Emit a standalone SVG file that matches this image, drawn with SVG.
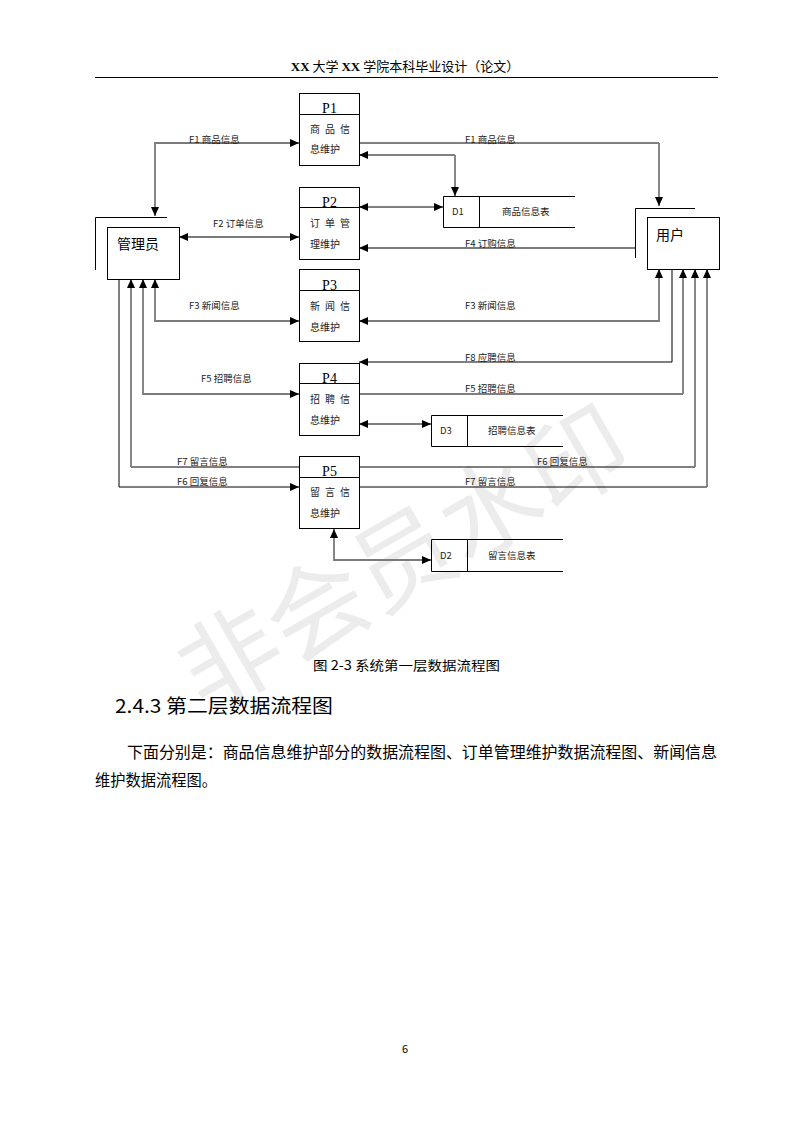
<svg xmlns="http://www.w3.org/2000/svg" width="793" height="1122" viewBox="0 0 793 1122">
<style>
.bg{fill:#ffffff}
.box{fill:#ffffff;stroke:#000;stroke-width:1}
.ln{fill:none;stroke:#000;stroke-width:1}
.k{fill:none;stroke:#000;stroke-width:1}
.g{fill:none;stroke:#7a7a7a;stroke-width:1.8}
.lbl{font-family:"Noto Sans CJK SC","Liberation Serif",serif;font-size:9.5px;fill:#222}
.pid{font-family:"Liberation Serif",serif;font-size:14px;fill:#000;text-anchor:middle}
.pt{font-family:"Noto Sans CJK SC",sans-serif;font-size:10px;fill:#222}
.ent{font-family:"Noto Sans CJK SC",sans-serif;font-size:14px;fill:#000}
.doc{font-family:"Noto Sans CJK SC",sans-serif;fill:#000}
.wm{font-family:"Noto Sans CJK SC",sans-serif;font-size:100px;font-weight:400;fill:#ececec}
</style>
<defs>
<marker id="ah" markerWidth="10" markerHeight="8" refX="9" refY="4" orient="auto-start-reverse" markerUnits="userSpaceOnUse">
<path d="M0,0 L9,4 L0,8 Z" fill="#000"/>
</marker>
</defs>
<rect class="bg" x="0" y="0" width="793" height="1122"/>
<text class="wm" x="205" y="715" transform="rotate(-30 205 715)">非会员水印</text>

<g id="header">
<text class="doc" x="405" y="71" font-size="13" text-anchor="middle"><tspan font-family="Liberation Serif" font-weight="bold">XX</tspan> 大学 <tspan font-family="Liberation Serif" font-weight="bold">XX</tspan> 学院本科毕业设计（论文）</text>
<line class="ln" x1="95" y1="77.5" x2="718" y2="77.5"/>
</g>

<g id="connectors">
<path class="g" d="M155,216 V143 H299" marker-start="url(#ah)" marker-end="url(#ah)"/>
<path class="k" d="M359,143 H659"/>
<path class="g" d="M659,143 V206" marker-end="url(#ah)"/>
<path class="k" d="M359,155 H455" marker-start="url(#ah)"/>
<path class="g" d="M455,155 V196" marker-end="url(#ah)"/>
<path class="k" d="M359,207 H443" marker-start="url(#ah)" marker-end="url(#ah)"/>
<path class="g" d="M179,237 H299" marker-start="url(#ah)" marker-end="url(#ah)"/>
<path class="g" d="M635,248 H359" marker-end="url(#ah)"/>
<path class="g" d="M155,279 V321 H299" marker-start="url(#ah)" marker-end="url(#ah)"/>
<path class="g" d="M659,269 V321 H359" marker-start="url(#ah)" marker-end="url(#ah)"/>
<path class="k" d="M672,269 V362 H359" marker-end="url(#ah)"/>
<path class="k" d="M359,394 H683"/>
<path class="g" d="M683,394 V269" marker-end="url(#ah)"/>
<path class="g" d="M143,279 V394 H299" marker-start="url(#ah)" marker-end="url(#ah)"/>
<path class="k" d="M359,424 H431" marker-start="url(#ah)" marker-end="url(#ah)"/>
<path class="k" d="M299,467 H131"/>
<path class="g" d="M131,467 V279" marker-end="url(#ah)"/>
<path class="k" d="M119,279 V487 H299" marker-end="url(#ah)"/>
<path class="k" d="M359,467 H695"/>
<path class="g" d="M695,467 V269" marker-end="url(#ah)"/>
<path class="k" d="M359,487 H707"/>
<path class="g" d="M707,487 V269" marker-end="url(#ah)"/>
<path class="g" d="M334,529 V560 H431" marker-start="url(#ah)" marker-end="url(#ah)"/>
<text class="lbl" x="189" y="143">F1 商品信息</text>
<text class="lbl" x="465" y="143">F1 商品信息</text>
<text class="lbl" x="213" y="227">F2 订单信息</text>
<text class="lbl" x="465" y="247">F4 订购信息</text>
<text class="lbl" x="189" y="309">F3 新闻信息</text>
<text class="lbl" x="465" y="309">F3 新闻信息</text>
<text class="lbl" x="465" y="361">F8 应聘信息</text>
<text class="lbl" x="201" y="382">F5 招聘信息</text>
<text class="lbl" x="465" y="392">F5 招聘信息</text>
<text class="lbl" x="177" y="465">F7 留言信息</text>
<text class="lbl" x="537" y="465">F6 回复信息</text>
<text class="lbl" x="177" y="485">F6 回复信息</text>
<text class="lbl" x="465" y="485">F7 留言信息</text>
</g>

<g id="admin">
<path class="ln" d="M95.5,270 V217.5 H167"/>
<rect class="box" x="107.5" y="227.5" width="72" height="52"/>
<text class="ent" x="117" y="249">管理员</text>
</g>

<g id="user">
<path class="ln" d="M635.5,258 V208.5 H695"/>
<rect class="box" x="647.5" y="217.5" width="72" height="52"/>
<text class="ent" x="656" y="240">用户</text>
</g>

<g id="P1">
<rect class="box" x="299.5" y="93.5" width="60" height="72"/>
<line class="ln" x1="299.5" y1="114.5" x2="359.5" y2="114.5"/>
<text class="pid" x="329.5" y="113">P1</text>
<text class="pt" x="310" y="133" textLength="40">商 品 信</text>
<text class="pt" x="310" y="153">息维护</text>
</g>
<g id="P2">
<rect class="box" x="299.5" y="187.5" width="60" height="72"/>
<line class="ln" x1="299.5" y1="207.5" x2="359.5" y2="207.5"/>
<text class="pid" x="329.5" y="207">P2</text>
<text class="pt" x="310" y="227" textLength="40">订 单 管</text>
<text class="pt" x="310" y="248">理维护</text>
</g>
<g id="P3">
<rect class="box" x="299.5" y="269.5" width="60" height="72"/>
<line class="ln" x1="299.5" y1="290.5" x2="359.5" y2="290.5"/>
<text class="pid" x="329.5" y="290">P3</text>
<text class="pt" x="310" y="310" textLength="40">新 闻 信</text>
<text class="pt" x="310" y="331">息维护</text>
</g>
<g id="P4">
<rect class="box" x="299.5" y="363.5" width="60" height="72"/>
<line class="ln" x1="299.5" y1="383.5" x2="359.5" y2="383.5"/>
<text class="pid" x="329.5" y="383">P4</text>
<text class="pt" x="310" y="403" textLength="40">招 聘 信</text>
<text class="pt" x="310" y="424">息维护</text>
</g>
<g id="P5">
<rect class="box" x="299.5" y="456.5" width="60" height="72"/>
<line class="ln" x1="299.5" y1="477.5" x2="359.5" y2="477.5"/>
<text class="pid" x="329.5" y="476">P5</text>
<text class="pt" x="310" y="496" textLength="40">留 言 信</text>
<text class="pt" x="310" y="517">息维护</text>
</g>

<g id="D1">
<path class="ln" d="M575,196.5 H443.5 V227.5 H575 M479.5,196.5 V227.5"/>
<text class="lbl" x="452" y="215">D1</text>
<text class="lbl" x="502" y="215">商品信息表</text>
</g>
<g id="D3">
<path class="ln" d="M563,415.5 H431.5 V446.5 H563 M467.5,415.5 V446.5"/>
<text class="lbl" x="440" y="434">D3</text>
<text class="lbl" x="488" y="434">招聘信息表</text>
</g>
<g id="D2">
<path class="ln" d="M563,539.5 H431.5 V571.5 H563 M467.5,539.5 V571.5"/>
<text class="lbl" x="440" y="559">D2</text>
<text class="lbl" x="488" y="559">留言信息表</text>
</g>

<g id="body">
<text class="doc" x="313" y="670" font-size="13" textLength="187" lengthAdjust="spacingAndGlyphs">图 2-3 系统第一层数据流程图</text>
<text class="doc" x="115" y="713" font-size="19" textLength="218" lengthAdjust="spacingAndGlyphs">2.4.3 第二层数据流程图</text>
<text class="doc" x="127" y="758" font-size="16" textLength="590" lengthAdjust="spacingAndGlyphs">下面分别是：商品信息维护部分的数据流程图、订单管理维护数据流程图、新闻信息</text>
<text class="doc" x="95" y="786" font-size="16" textLength="122" lengthAdjust="spacingAndGlyphs">维护数据流程图。</text>
<text class="doc" x="405" y="1053" font-size="11" font-family="Liberation Serif" text-anchor="middle">6</text>
</g>
</svg>
